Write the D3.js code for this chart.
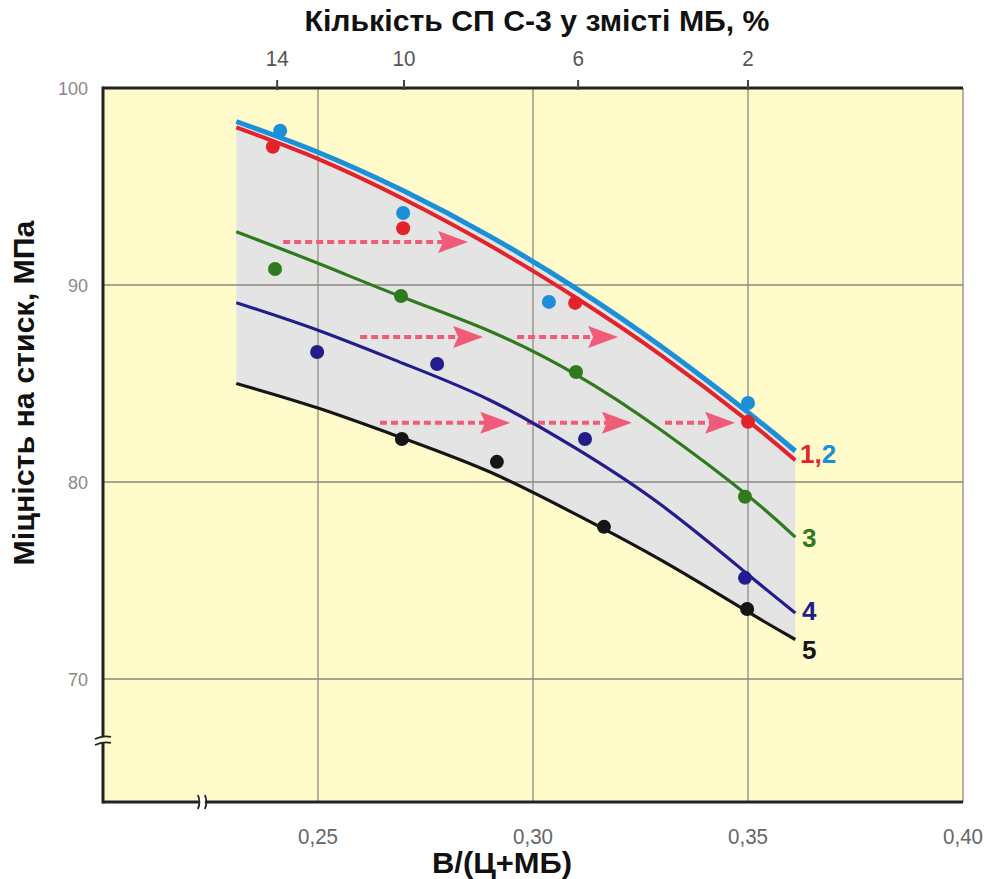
<!DOCTYPE html>
<html><head><meta charset="utf-8">
<script src="https://cdn.jsdelivr.net/npm/d3@7/dist/d3.min.js"></script>
<style>body{margin:0;background:#fff}</style>
</head><body><svg id="c" width="989" height="879"></svg>
<script>
// ---- data ----
const xGrid = [0.25, 0.30, 0.35, 0.40];
const xTickLabels = ["0,25", "0,30", "0,35", "0,40"];
const yTicks = [70, 80, 90, 100];
const topTickPos = [0.2405, 0.270, 0.3105, 0.35];
const topTickLabels = ["14", "10", "6", "2"];

const curveX = [0.231, 0.25, 0.27, 0.29, 0.31, 0.33, 0.35, 0.361];
const curve1 = [98.0, 96.4, 94.35, 92.0, 89.35, 86.4, 83.1, 81.1];
const curve2 = [98.3, 96.74, 94.77, 92.47, 89.83, 86.85, 83.53, 81.57];
const curve3 = [92.7, 91.1, 89.35, 87.65, 85.45, 82.6, 79.3, 77.2];
const curve4 = [89.1, 87.7, 86.0, 84.15, 81.7, 78.8, 75.3, 73.35];
const curve5 = [85.0, 83.75, 82.2, 80.5, 78.35, 76.0, 73.4, 72.0];

const pts1X = [0.2395, 0.2698, 0.3098, 0.35], pts1Y = [97.02, 92.88, 89.09, 83.05];
const pts2X = [0.2412, 0.2698, 0.3037, 0.35], pts2Y = [97.83, 93.65, 89.14, 84.01];
const pts3X = [0.2400, 0.2693, 0.3100, 0.3493], pts3Y = [90.81, 89.44, 85.58, 79.25];
const pts4X = [0.2498, 0.2777, 0.3121, 0.3493], pts4Y = [86.6, 85.99, 82.18, 75.13];
const pts5X = [0.2695, 0.2916, 0.3165, 0.3498], pts5Y = [82.18, 81.02, 77.72, 73.55];

const arrowY  = [92.18, 87.36, 87.36, 83.0, 83.0, 83.0];
const arrowX0 = [0.2419, 0.2598, 0.2963, 0.2644, 0.2986, 0.3307];
const arrowX1 = [0.2849, 0.2884, 0.3198, 0.2947, 0.3230, 0.3470];

// ---- layout ----
const svg = d3.select("#c");
const x = d3.scaleLinear().domain([0.20, 0.40]).range([103, 963]);
const y = d3.scaleLinear().domain([63.75, 100]).range([802, 88]);

const colors = {c1: "#e3222a", c2: "#1b8fd8", c3: "#2e7a1c", c4: "#221c8c", c5: "#151515"};
const ff = "'Liberation Sans',Arial,sans-serif";

// background
svg.append("rect").attr("x", x(0.20)).attr("y", y(100))
  .attr("width", x(0.40) - x(0.20)).attr("height", y(63.75) - y(100))
  .attr("fill", "#fffbcb");

// shaded band between curve 2 and curve 5
const band = curveX.map((v, i) => ({x: v, top: curve2[i], bot: curve5[i]}));
svg.append("path").datum(band)
  .attr("d", d3.area().x(d => x(d.x)).y0(d => y(d.bot)).y1(d => y(d.top)).curve(d3.curveNatural))
  .attr("fill", "#e4e4e4");

// gridlines
svg.append("g").selectAll("line").data(xGrid).join("line")
  .attr("x1", d => x(d)).attr("x2", d => x(d)).attr("y1", y(100)).attr("y2", y(63.75))
  .attr("stroke", "#9a9a8e").attr("stroke-width", 1.5);
svg.append("g").selectAll("line").data(yTicks.filter(d => d < 100)).join("line")
  .attr("x1", x(0.20)).attr("x2", x(0.40)).attr("y1", d => y(d)).attr("y2", d => y(d))
  .attr("stroke", "#8a8a80").attr("stroke-width", 1.5);

// axes lines
svg.append("line").attr("x1", x(0.20)).attr("x2", x(0.40)).attr("y1", y(100)).attr("y2", y(100))
  .attr("stroke", "#222").attr("stroke-width", 3);
svg.append("line").attr("x1", x(0.20)).attr("x2", x(0.40)).attr("y1", y(63.75)).attr("y2", y(63.75))
  .attr("stroke", "#222").attr("stroke-width", 3);
svg.append("line").attr("x1", x(0.20)).attr("x2", x(0.20)).attr("y1", y(100) - 1.5).attr("y2", y(63.75) + 1.5)
  .attr("stroke", "#222").attr("stroke-width", 3);

// axis breaks
const bx = x(0.2230), by = y(66.9);
svg.append("rect").attr("x", bx - 3).attr("y", y(63.75) - 4).attr("width", 6).attr("height", 8).attr("fill", "#fff");
svg.append("path").attr("d", `M${bx-4},${y(63.75)+7} Q${bx-1},${y(63.75)} ${bx-4},${y(63.75)-7} M${bx+3},${y(63.75)+7} Q${bx+6},${y(63.75)} ${bx+3},${y(63.75)-7}`)
  .attr("fill", "none").attr("stroke", "#222").attr("stroke-width", 1.8);
svg.append("rect").attr("x", x(0.20) - 4).attr("y", by - 3).attr("width", 8).attr("height", 6).attr("fill", "#fffbcb");
svg.append("path").attr("d", `M${x(0.20)-8},${by-1} Q${x(0.20)},${by-5} ${x(0.20)+8},${by-3} M${x(0.20)-8},${by+5} Q${x(0.20)},${by+1} ${x(0.20)+8},${by+3}`)
  .attr("fill", "none").attr("stroke", "#222").attr("stroke-width", 1.8);

// top axis ticks
svg.append("g").selectAll("line").data(topTickPos).join("line")
  .attr("x1", d => x(d)).attr("x2", d => x(d)).attr("y1", y(100) - 8).attr("y2", y(100) + 2)
  .attr("stroke", "#444").attr("stroke-width", 2);
svg.append("g").selectAll("text").data(topTickPos).join("text")
  .attr("x", d => x(d)).attr("y", 66).attr("text-anchor", "middle")
  .attr("font-family", ff).attr("font-size", 22)
  .attr("textLength", (d, i) => topTickLabels[i].length * 11.5).attr("lengthAdjust", "spacingAndGlyphs")
  .attr("fill", "#555").text((d, i) => topTickLabels[i]);

// bottom tick labels
svg.append("g").selectAll("text").data(xGrid).join("text")
  .attr("x", d => x(d)).attr("y", 844).attr("text-anchor", "middle")
  .attr("font-family", ff).attr("font-size", 22)
  .attr("textLength", 40).attr("lengthAdjust", "spacingAndGlyphs")
  .attr("fill", "#666").text((d, i) => xTickLabels[i]);

// y tick labels
svg.append("g").selectAll("text").data(yTicks).join("text")
  .attr("x", 88).attr("y", d => y(d) + 7).attr("text-anchor", "end")
  .attr("font-family", ff).attr("font-size", 18)
  .attr("fill", "#8a8a8a").text(d => d);

// titles
svg.append("text").attr("x", 537).attr("y", 31).attr("text-anchor", "middle")
  .attr("font-family", ff).attr("font-weight", "bold").attr("font-size", 29)
  .attr("textLength", 465).attr("lengthAdjust", "spacingAndGlyphs")
  .attr("fill", "#111").text("Кількість СП С-3 у змісті МБ, %");
svg.append("text").attr("x", 502).attr("y", 873).attr("text-anchor", "middle")
  .attr("font-family", ff).attr("font-weight", "bold").attr("font-size", 29)
  .attr("textLength", 140).attr("lengthAdjust", "spacingAndGlyphs")
  .attr("fill", "#111").text("В/(Ц+МБ)");
svg.append("text").attr("transform", "translate(34,393) rotate(-90)").attr("text-anchor", "middle")
  .attr("font-family", ff).attr("font-weight", "bold").attr("font-size", 29)
  .attr("textLength", 345).attr("lengthAdjust", "spacingAndGlyphs")
  .attr("fill", "#111").text("Міцність на стиск, МПа");

// arrows
const arrowColor = "#ef5b78";
const ag = svg.append("g");
arrowY.forEach((v, i) => {
  const x0 = x(arrowX0[i]), x1 = x(arrowX1[i]), yy = y(v);
  ag.append("line").attr("x1", x0).attr("x2", x1 - 24).attr("y1", yy).attr("y2", yy)
    .attr("stroke", arrowColor).attr("stroke-width", 4).attr("stroke-dasharray", "7,4");
  ag.append("path").attr("d", `M${x1},${yy} L${x1 - 30},${yy - 11} L${x1 - 25},${yy} L${x1 - 30},${yy + 11} Z`)
    .attr("fill", arrowColor);
});

// curves
const line = d3.line().x(d => x(d[0])).y(d => y(d[1])).curve(d3.curveNatural);
const series = [
  {ys: curve5, c: colors.c5, w: 3.2},
  {ys: curve4, c: colors.c4, w: 3.2},
  {ys: curve3, c: colors.c3, w: 3.2},
  {ys: curve2, c: colors.c2, w: 5},
  {ys: curve1, c: colors.c1, w: 4},
];
series.forEach(s => {
  svg.append("path").datum(curveX.map((v, i) => [v, s.ys[i]]))
    .attr("d", line).attr("fill", "none").attr("stroke", s.c).attr("stroke-width", s.w);
});

// points
const ptSets = [
  {xs: pts5X, ys: pts5Y, c: colors.c5},
  {xs: pts4X, ys: pts4Y, c: colors.c4},
  {xs: pts3X, ys: pts3Y, c: colors.c3},
  {xs: pts2X, ys: pts2Y, c: colors.c2},
  {xs: pts1X, ys: pts1Y, c: colors.c1},
];
ptSets.forEach(p => {
  svg.append("g").selectAll("circle").data(p.xs).join("circle")
    .attr("cx", d => x(d)).attr("cy", (d, i) => y(p.ys[i])).attr("r", 7).attr("fill", p.c);
});

// curve labels
const lab12 = svg.append("text").attr("x", 800).attr("y", 463).attr("font-family", ff)
  .attr("font-weight", "bold").attr("font-size", 26);
lab12.append("tspan").attr("fill", colors.c1).text("1,");
lab12.append("tspan").attr("fill", colors.c2).text("2");
[["3", colors.c3, 547], ["4", colors.c4, 620], ["5", colors.c5, 659]].forEach(l => {
  svg.append("text").attr("x", 802).attr("y", l[2]).attr("font-family", ff)
    .attr("font-weight", "bold").attr("font-size", 26).attr("fill", l[1]).text(l[0]);
});
</script></body></html>
